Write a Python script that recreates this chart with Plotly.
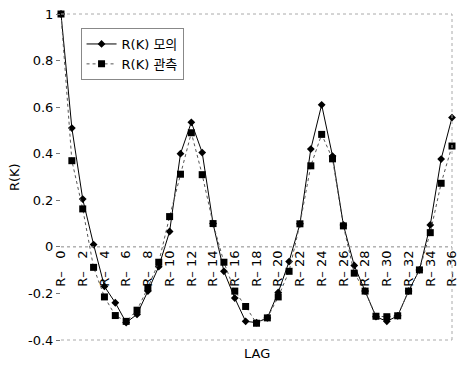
import plotly.graph_objects as go

lags = list(range(0, 37))
sim = [1.0, 0.51, 0.205, 0.01, -0.17, -0.24, -0.325, -0.29, -0.19, -0.085,
       0.066, 0.40, 0.535, 0.405, 0.10, -0.105, -0.22, -0.32, -0.325, -0.305,
       -0.196, -0.063, 0.099, 0.42, 0.61, 0.39, 0.094, -0.08, -0.19, -0.30,
       -0.32, -0.296, -0.19, -0.099, 0.094, 0.377, 0.555]
obs = [1.0, 0.37, 0.163, -0.088, -0.215, -0.295, -0.32, -0.272, -0.175, -0.066,
       0.13, 0.312, 0.49, 0.31, 0.10, -0.066, -0.19, -0.256, -0.328, -0.305,
       -0.215, -0.105, 0.099, 0.348, 0.483, 0.378, 0.09, -0.113, -0.19, -0.298,
       -0.30, -0.296, -0.19, -0.099, 0.061, 0.273, 0.433]
tick_vals = list(range(0, 37, 2))
tick_text = ["R\u2013 " + ("\u2007" if v < 10 else "") + str(v) for v in tick_vals]
y_ticks = [1, 0.8, 0.6, 0.4, 0.2, 0, -0.2, -0.4]
y_text = ["1", "0.8", "0.6", "0.4", "0.2", "0", "-0.2", "-0.4"]
names = ["R(K) 모의", "R(K) 관측"]

FONT = "DejaVu Sans, Noto Sans CJK KR, sans-serif"

fig = go.Figure()
fig.add_trace(go.Scatter(x=lags, y=sim, name=names[0], mode="lines+markers",
                         line=dict(color="black", width=1),
                         marker=dict(symbol="diamond", size=6, color="black"),
                         cliponaxis=False))
fig.add_trace(go.Scatter(x=lags, y=obs, name=names[1], mode="lines+markers",
                         line=dict(color="#555555", width=1, dash="dot"),
                         marker=dict(symbol="square", size=7, color="black"),
                         cliponaxis=False))

zero_pos = 0.4 / 1.4
fig.update_layout(
    width=462, height=367,
    margin=dict(l=61, r=3, t=14, b=27),
    paper_bgcolor="white", plot_bgcolor="white",
    font=dict(family=FONT, size=13, color="black"),
    showlegend=True,
    legend=dict(x=0.05, y=0.957, xanchor="left", yanchor="top",
                bordercolor="#888888", borderwidth=1, bgcolor="white",
                font=dict(size=13), itemwidth=30, tracegroupgap=0),
    xaxis=dict(range=[0, 36], tickmode="array", tickvals=tick_vals, ticktext=tick_text,
               tickangle=-90, anchor="free", position=zero_pos, showgrid=False,
               zeroline=False, showline=False, ticks="", tickfont=dict(size=13),
               ticklabeloverflow="allow"),
    yaxis=dict(range=[-0.4, 1], tickmode="array", tickvals=y_ticks, ticktext=y_text,
               showgrid=False, zeroline=False, showline=False, ticks="outside",
               ticklen=4, tickcolor="#777777", tickfont=dict(size=13)),
    shapes=[
        dict(type="line", xref="paper", yref="y", x0=0, x1=1, y0=0, y1=0,
             line=dict(color="#888888", width=1, dash="dot")),
        dict(type="line", xref="paper", yref="paper", x0=0, x1=1, y0=1, y1=1,
             line=dict(color="#aaaaaa", width=1, dash="dot")),
        dict(type="line", xref="paper", yref="paper", x0=0, x1=1, y0=0, y1=0,
             line=dict(color="#aaaaaa", width=1, dash="dot")),
        dict(type="line", xref="paper", yref="paper", x0=1, x1=1, y0=0, y1=1,
             line=dict(color="#aaaaaa", width=1, dash="dot")),
    ],
    annotations=[
        dict(text="LAG", xref="paper", yref="paper", x=0.5, y=-0.04,
             xanchor="center", yanchor="middle", showarrow=False, font=dict(size=13)),
        dict(text="R(K)", xref="paper", yref="paper", x=-0.12, y=0.5,
             xanchor="center", yanchor="middle", showarrow=False, textangle=-90,
             font=dict(size=13)),
    ],
)

fig.write_html("out.html")
